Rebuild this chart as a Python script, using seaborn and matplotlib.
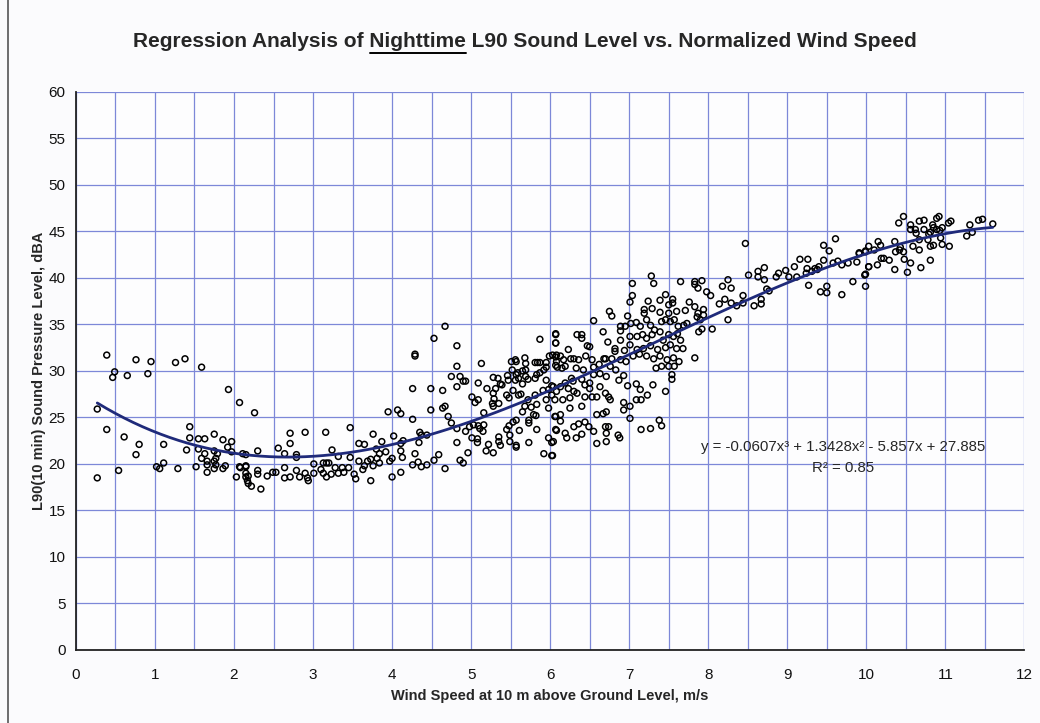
import pandas as pd
import seaborn as sns
import matplotlib.pyplot as plt
from matplotlib.ticker import MultipleLocator
from matplotlib.lines import Line2D

# (wind speed m/s, L90 dBA), grouped by wind band
pts_0_2 = [(0.39, 31.7), (0.49, 29.9), (0.465, 29.3), (0.76, 31.2), (0.65, 29.5), (0.95, 31.0),
           (0.91, 29.7), (1.26, 30.9), (1.38, 31.3), (1.59, 30.4), (1.93, 28.0), (2.07, 26.6),
           (0.27, 25.9), (0.39, 23.7), (0.61, 22.9), (0.80, 22.1), (0.76, 21.0), (0.27, 18.5),
           (0.54, 19.3), (1.02, 19.7), (1.06, 19.5), (1.11, 20.1), (1.11, 22.1), (1.29, 19.5),
           (1.40, 21.5), (1.44, 24.0), (1.44, 22.8), (1.55, 22.7), (1.63, 22.7), (1.75, 23.2),
           (1.86, 22.6), (1.97, 22.4), (1.92, 21.8), (1.97, 21.3), (1.55, 21.6), (1.63, 21.1),
           (1.59, 20.6), (1.66, 20.3), (1.66, 19.9), (1.52, 19.7), (1.66, 19.1), (1.75, 21.4),
           (1.77, 20.6), (1.75, 20.3), (1.79, 21.1), (1.77, 19.9), (1.75, 19.5), (1.86, 19.5),
           (1.89, 19.8), (2.03, 18.6), (2.07, 19.7), (2.15, 19.7), (2.11, 21.1), (2.15, 21.0),
           (2.18, 18.7), (2.18, 17.9)]

pts_2_4 = [(2.26, 25.5), (2.30, 21.4), (2.08, 19.6), (2.15, 19.8), (2.15, 19.0), (2.15, 18.6),
           (2.17, 18.2), (2.22, 17.6), (2.30, 19.3), (2.30, 18.9), (2.34, 17.3), (2.42, 18.7),
           (2.49, 19.1), (2.53, 19.1), (2.56, 21.7), (2.64, 21.1), (2.64, 19.6), (2.64, 18.5),
           (2.71, 22.2), (2.71, 23.3), (2.71, 18.6), (2.79, 21.0), (2.79, 20.7), (2.79, 19.3),
           (2.83, 18.6), (2.90, 23.4), (2.90, 19.0), (2.93, 18.5), (2.94, 18.2), (3.01, 20.0),
           (3.01, 19.0), (3.10, 19.4), (3.13, 20.1), (3.16, 23.4), (3.17, 20.1), (3.20, 20.1),
           (3.13, 19.0), (3.17, 18.6), (3.23, 18.9), (3.24, 21.5), (3.28, 19.6), (3.32, 20.8),
           (3.32, 19.0), (3.37, 19.6), (3.39, 19.1), (3.47, 23.9), (3.47, 20.7), (3.45, 19.6),
           (3.52, 18.9), (3.54, 18.4), (3.58, 22.2), (3.65, 22.1), (3.58, 20.3), (3.65, 19.8),
           (3.63, 19.4), (3.69, 20.3), (3.73, 18.2), (3.76, 23.2), (3.76, 19.8), (3.73, 20.5),
           (3.80, 21.6), (3.81, 20.6), (3.87, 22.4), (3.84, 21.1), (3.84, 20.1), (3.92, 21.3),
           (3.95, 25.6), (4.07, 25.8), (4.11, 25.4), (3.97, 20.3), (4.00, 20.6), (4.00, 18.6),
           (4.02, 23.0), (4.11, 22.2), (4.14, 22.5), (4.11, 21.4), (4.13, 20.7), (4.11, 19.1)]

pts_4_6 = [(4.67, 34.8), (4.53, 33.5), (4.82, 32.7), (4.29, 31.8), (4.29, 31.6), (4.82, 30.5),
           (5.13, 30.8), (5.87, 33.4), (6.07, 34.0), (6.07, 33.0), (4.75, 29.4), (4.86, 29.4),
           (4.90, 28.9), (4.93, 28.9), (4.26, 28.1), (4.49, 28.1), (4.64, 27.9), (4.82, 28.3),
           (5.09, 28.7), (5.01, 27.2), (5.05, 26.6), (5.09, 26.9), (4.67, 26.2), (4.64, 26.0),
           (4.49, 25.8), (4.26, 24.8), (4.71, 25.1), (4.75, 24.4), (5.16, 25.5), (4.82, 23.8),
           (4.93, 23.5), (4.98, 24.0), (5.03, 24.2), (5.09, 24.1), (5.11, 23.8), (5.16, 24.2),
           (4.35, 23.4), (4.37, 23.1), (4.44, 23.1), (4.34, 22.3), (4.29, 21.1), (4.26, 19.9),
           (4.33, 20.2), (4.37, 19.7), (4.44, 19.9), (4.53, 20.4), (4.59, 21.0), (4.67, 19.5),
           (4.86, 20.4), (4.90, 20.1), (4.82, 22.3), (4.96, 21.2), (5.01, 22.8), (5.08, 22.7),
           (5.08, 22.3), (5.19, 21.4), (5.22, 22.1), (5.28, 21.2), (5.35, 22.9), (5.35, 22.4),
           (5.37, 22.0), (5.49, 23.1), (5.49, 22.4), (5.57, 22.0), (5.57, 21.8), (5.73, 22.3),
           (5.45, 23.7), (5.48, 24.1), (5.53, 24.5), (5.61, 23.6), (5.57, 24.7), (5.73, 24.7),
           (5.73, 24.4), (5.83, 23.7), (5.92, 21.1), (6.02, 20.9), (5.98, 22.8), (6.02, 22.3),
           (6.07, 23.7), (5.27, 26.5), (5.35, 26.5), (5.28, 26.2), (5.29, 27.0), (5.28, 27.6),
           (5.31, 28.1), (5.20, 28.1), (5.28, 29.3), (5.34, 29.2), (5.37, 28.6), (5.39, 28.5),
           (5.46, 29.5), (5.47, 29.0), (5.45, 27.4), (5.48, 27.1), (5.53, 27.9), (5.56, 29.0),
           (5.57, 29.6), (5.60, 29.2), (5.60, 27.4), (5.63, 27.5), (5.65, 28.6), (5.69, 29.4),
           (5.72, 29.1), (5.65, 30.0), (5.69, 30.1), (5.51, 31.0), (5.56, 31.2), (5.57, 31.0),
           (5.52, 30.1), (5.59, 29.8), (5.68, 31.4), (5.69, 30.8), (5.72, 26.9), (5.76, 26.1),
           (5.81, 27.4), (5.83, 26.4), (5.79, 25.3), (5.82, 25.2), (5.65, 25.6), (5.68, 26.2),
           (5.81, 29.2), (5.83, 29.6), (5.87, 29.8), (5.92, 30.1), (5.95, 30.4), (5.81, 30.9),
           (5.84, 30.9), (5.87, 30.9), (5.95, 30.9), (5.99, 31.6), (6.03, 31.7), (6.07, 31.5),
           (6.07, 30.6), (5.95, 29.0), (5.91, 27.9), (5.98, 28.0), (6.02, 28.4), (5.95, 26.9),
           (5.98, 26.0), (6.06, 26.9), (6.07, 25.1), (6.02, 27.4), (5.15, 23.5)]

pts_6_8 = [(7.28, 40.2), (7.31, 39.4), (7.04, 39.4), (7.65, 39.6), (7.83, 39.6), (7.83, 39.3),
           (7.92, 39.7), (7.87, 38.9), (7.98, 38.5), (7.04, 38.1), (7.01, 37.4), (7.24, 37.5),
           (7.39, 37.6), (7.46, 38.2), (7.55, 37.7), (7.55, 37.3), (7.76, 37.4), (7.83, 36.9),
           (7.94, 36.6), (7.19, 36.6), (7.19, 36.2), (7.29, 36.7), (7.39, 36.3), (7.50, 37.1),
           (7.50, 36.2), (7.60, 36.4), (7.71, 36.5), (7.87, 36.2), (7.86, 35.8), (6.75, 36.4),
           (6.78, 35.9), (6.98, 35.9), (6.55, 35.4), (6.67, 34.2), (6.89, 34.8), (6.89, 34.3),
           (6.95, 34.8), (7.02, 35.1), (7.09, 35.2), (7.14, 34.8), (7.22, 35.5), (7.27, 34.9),
           (7.32, 34.4), (7.41, 35.3), (7.46, 35.5), (7.52, 35.3), (7.57, 35.5), (7.62, 34.8),
           (7.69, 34.9), (7.73, 35.1), (7.88, 34.2), (7.92, 34.5), (7.01, 33.7), (7.10, 33.7),
           (7.17, 33.9), (7.22, 33.5), (7.29, 33.9), (7.39, 34.2), (7.43, 33.3), (7.50, 33.9),
           (7.56, 33.7), (7.61, 34.0), (7.65, 33.3), (6.89, 33.3), (6.82, 32.4), (6.82, 32.1),
           (6.73, 33.1), (7.01, 32.8), (7.10, 32.3), (7.18, 32.4), (7.27, 32.7), (7.36, 32.3),
           (7.46, 32.5), (7.52, 32.8), (7.60, 32.4), (7.68, 32.4), (6.94, 32.2), (7.05, 31.6),
           (7.13, 31.8), (7.22, 31.6), (7.31, 31.3), (7.39, 31.6), (7.48, 31.2), (7.56, 31.4),
           (7.63, 31.0), (7.83, 31.4), (7.41, 30.5), (7.50, 30.5), (7.57, 30.5), (7.34, 30.3),
           (7.54, 29.6), (7.54, 29.1), (6.89, 31.2), (6.96, 31.0), (6.78, 31.3), (6.70, 31.3),
           (6.76, 30.5), (6.83, 30.1), (6.93, 29.5), (6.98, 28.4), (7.09, 28.6), (7.14, 28.0),
           (7.30, 28.5), (7.46, 27.8), (7.23, 27.4), (7.09, 26.9), (7.15, 26.9), (7.01, 26.2),
           (6.93, 26.6), (6.93, 25.8), (7.01, 24.9), (7.15, 23.7), (7.27, 23.8), (7.38, 24.7),
           (7.41, 24.1), (6.87, 29.0), (6.71, 29.4), (6.68, 31.3), (6.55, 30.4), (6.62, 30.7),
           (6.63, 29.7), (6.55, 29.6), (6.53, 31.2), (6.47, 32.7), (6.50, 32.6), (6.40, 33.9),
           (6.40, 33.5), (6.34, 33.9), (6.45, 31.6), (6.36, 31.2), (6.30, 31.3), (6.26, 31.3),
           (6.23, 32.3), (6.17, 31.2), (6.13, 31.6), (6.08, 31.0), (6.09, 30.4), (6.15, 30.3),
           (6.19, 30.5), (6.08, 31.7), (6.07, 33.9), (6.07, 33.0), (6.33, 30.3), (6.42, 30.1),
           (6.27, 29.2), (6.29, 28.9), (6.19, 28.7), (6.40, 29.1), (6.44, 28.5), (6.50, 28.7),
           (6.50, 28.1), (6.63, 28.3), (6.70, 27.6), (6.74, 27.2), (6.76, 26.9), (6.59, 27.2),
           (6.53, 27.2), (6.44, 27.2), (6.34, 27.6), (6.30, 27.8), (6.23, 28.1), (6.13, 28.3),
           (6.08, 27.8), (6.04, 28.3), (6.16, 26.9), (6.25, 27.1), (6.25, 26.0), (6.40, 26.2),
           (6.59, 25.3), (6.67, 25.4), (6.71, 25.6), (6.70, 24.0), (6.74, 24.0), (6.71, 23.3),
           (6.71, 22.4), (6.59, 22.2), (6.55, 23.5), (6.49, 24.0), (6.44, 24.5), (6.36, 24.3),
           (6.30, 24.0), (6.40, 23.2), (6.33, 22.8), (6.21, 22.8), (6.19, 23.3), (6.08, 23.6),
           (6.06, 25.1), (6.13, 25.3), (6.13, 24.6), (6.04, 22.4), (6.03, 20.9), (6.86, 23.1),
           (6.88, 22.8)]

pts_8_10 = [(8.47, 43.7), (9.61, 44.2), (9.46, 43.5), (9.53, 42.9), (9.16, 42.0), (9.26, 42.0),
            (9.46, 41.9), (9.58, 41.6), (9.64, 41.8), (9.69, 41.4), (9.77, 41.6), (9.88, 41.7),
            (9.91, 42.6), (9.99, 42.8), (10.03, 43.4), (10.03, 41.2), (9.99, 40.4), (9.83, 39.6),
            (9.99, 39.1), (9.69, 38.2), (9.50, 39.1), (9.50, 38.4), (9.42, 38.5), (9.27, 39.2),
            (9.40, 41.2), (9.38, 40.9), (9.35, 41.0), (9.31, 40.7), (9.25, 41.0), (9.24, 40.5),
            (9.12, 40.1), (9.09, 41.2), (9.02, 40.1), (8.98, 40.8), (8.89, 40.5), (8.86, 40.1),
            (8.71, 41.1), (8.63, 40.7), (8.63, 40.1), (8.71, 39.8), (8.51, 40.3), (8.74, 38.8),
            (8.77, 38.6), (8.67, 37.7), (8.67, 37.2), (8.58, 37.0), (8.44, 38.1), (8.44, 37.3),
            (8.36, 37.0), (8.29, 37.3), (8.25, 35.5), (8.29, 38.9), (8.25, 39.8), (8.18, 39.1),
            (8.21, 37.7), (8.14, 37.2), (8.03, 38.1), (7.94, 36.0), (7.90, 35.5), (8.05, 34.5)]

pts_10_12 = [(10.47, 46.6), (10.41, 45.9), (10.67, 46.1), (10.73, 46.2), (10.89, 46.4), (10.92, 46.6),
             (10.84, 45.7), (10.56, 45.7), (10.56, 45.2), (10.62, 45.2), (10.63, 44.8), (10.73, 45.2),
             (10.81, 44.9), (10.79, 44.7), (10.85, 45.4), (10.89, 45.2), (10.93, 45.1), (10.96, 45.4),
             (10.94, 44.3), (10.78, 44.1), (10.67, 44.1), (10.59, 43.4), (10.96, 43.6), (11.05, 43.4),
             (11.04, 45.9), (11.07, 46.1), (10.81, 43.4), (10.85, 43.5), (10.67, 43.0), (10.81, 41.9),
             (10.69, 41.1), (10.56, 41.6), (10.52, 40.6), (10.48, 42.0), (10.47, 42.8), (10.42, 43.0),
             (10.43, 43.3), (10.36, 43.9), (10.37, 42.8), (10.36, 40.9), (10.29, 41.9), (10.22, 42.1),
             (10.19, 42.1), (10.14, 41.4), (10.15, 43.9), (10.18, 43.5), (10.10, 43.0), (9.99, 42.9),
             (9.91, 42.7), (10.03, 41.2), (9.98, 40.3), (11.27, 44.5), (11.31, 45.7), (11.34, 44.9),
             (11.42, 46.2), (11.47, 46.3), (11.60, 45.8)]

title_pre = "Regression Analysis of "
title_word = "Nighttime"
title_post = " L90 Sound Level vs. Normalized Wind Speed"
x_label = "Wind Speed at 10 m above Ground Level, m/s"
y_label = "L90(10 min) Sound Pressure Level, dBA"
fit_text = "y = -0.0607x³ + 1.3428x² - 5.857x + 27.885"
r2_text = "R² = 0.85"

df = pd.DataFrame(pts_0_2 + pts_2_4 + pts_4_6 + pts_6_8 + pts_8_10 + pts_10_12,
                  columns=["wind", "l90"])

sns.set_style("white")
plt.rcParams["font.family"] = ["Liberation Sans", "DejaVu Sans"]

grid_c = "#7d88d8"
line_c = "#1f2a7a"

fig = plt.figure(figsize=(10.4, 7.23), dpi=100, facecolor="#fbfbfd")
ax = fig.add_axes([0.073, 0.101, 0.912, 0.772])
ax.set_facecolor("#fdfdfe")

sns.scatterplot(data=df, x="wind", y="l90", ax=ax, marker="o", s=18,
                fc="none", ec="black", linewidth=1.1, zorder=3)
sns.regplot(data=df, x="wind", y="l90", order=3, ci=None, scatter=False, ax=ax,
            line_kws=dict(color=line_c, lw=2.0, zorder=4))

ax.set_xlim(0, 12)
ax.set_ylim(0, 60)
ax.xaxis.set_major_locator(MultipleLocator(1))
ax.xaxis.set_minor_locator(MultipleLocator(0.5))
ax.yaxis.set_major_locator(MultipleLocator(5))
ax.set_axisbelow(True)
ax.grid(True, which="both", axis="x", color=grid_c, lw=0.9)
ax.grid(True, which="major", axis="y", color=grid_c, lw=0.9)
for s in ["top", "right"]:
    ax.spines[s].set_visible(False)
for s in ["left", "bottom"]:
    ax.spines[s].set_color("#222222")
    ax.spines[s].set_linewidth(1.3)
ax.tick_params(axis="both", which="major", direction="out", length=4, width=1,
               labelsize=11, colors="#111111")
ax.tick_params(axis="x", which="major", pad=9)
ax.tick_params(axis="x", which="minor", length=0)

ax.set_xlabel(x_label, fontsize=10.5, fontweight="bold", labelpad=5)
ax.set_ylabel(y_label, fontsize=10.5, fontweight="bold", labelpad=2)

ax.text(9.71, 21.8, fit_text, ha="center", va="center", fontsize=10.8, zorder=5)
ax.text(9.71, 19.6, r2_text, ha="center", va="center", fontsize=10.8, zorder=5)

# title with the underlined word
ty = 0.942
title = fig.text(0.505, ty, title_pre + title_word + title_post, ha="center", va="center",
                 fontsize=15, fontweight="bold")
fig.canvas.draw()
r = fig.canvas.get_renderer()
tb = title.get_window_extent(r)
probe = fig.text(0, 0, title_pre + title_word, fontsize=15, fontweight="bold")
w1 = probe.get_window_extent(r).width
probe.set_text(title_word)
w2 = probe.get_window_extent(r).width
probe.remove()
W, H = fig.bbox.width, fig.bbox.height
x_end = (tb.x0 + w1) / W
x_start = (tb.x0 + w1 - w2) / W
fig.add_artist(Line2D([x_start, x_end], [(tb.y0 - 1.5) / H] * 2, color="black", lw=1.4))

# left edge of the scanned chart frame
fig.add_artist(Line2D([0.008, 0.008], [0, 1], color="#555555", lw=1.2))

fig.savefig("out.png", dpi=100, facecolor=fig.get_facecolor())
